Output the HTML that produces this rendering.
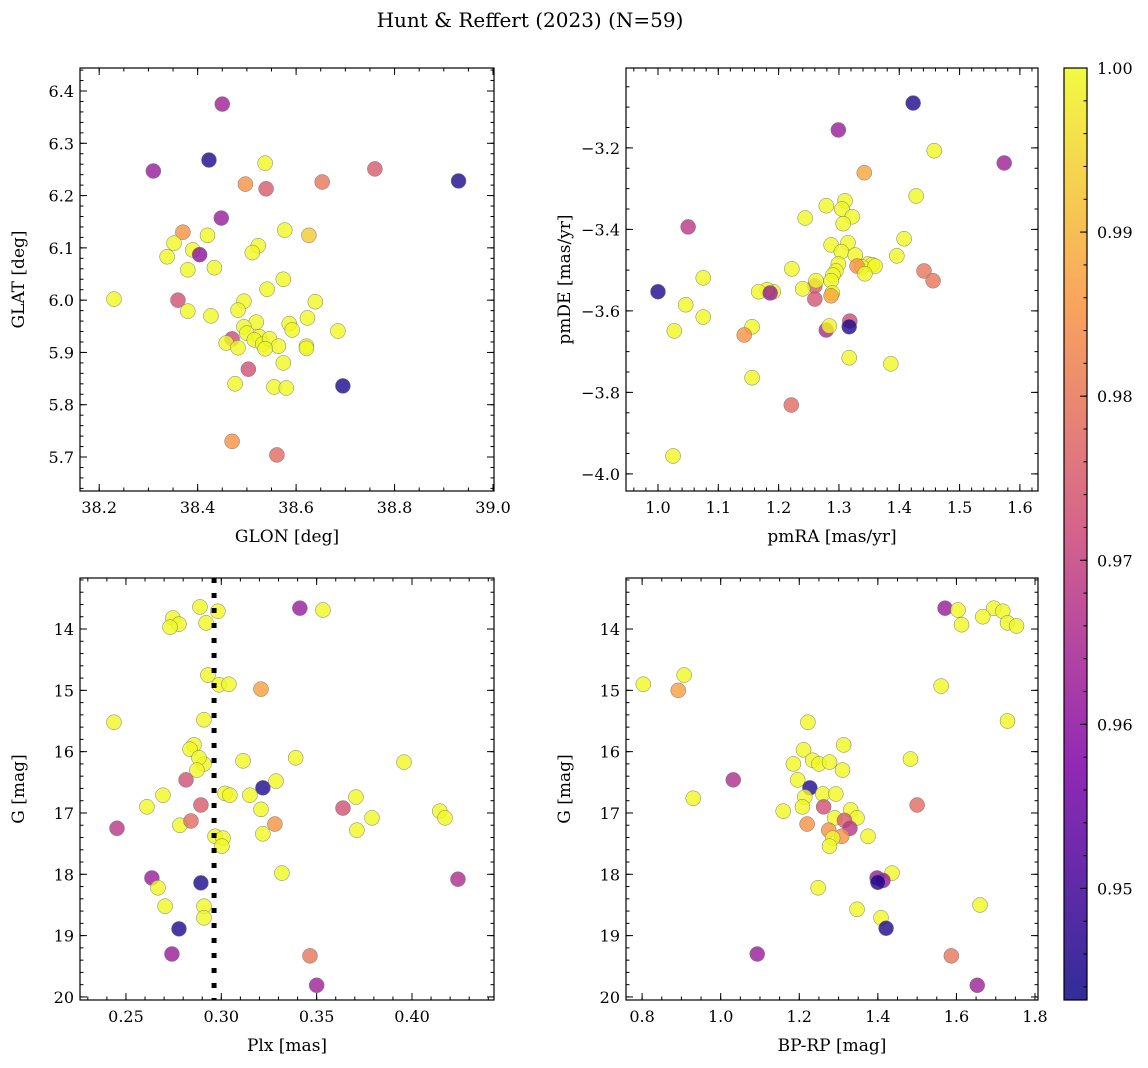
<!DOCTYPE html>
<html><head><meta charset="utf-8"><style>
body{margin:0;background:#fff;}
svg{display:block;font-family:"DejaVu Serif","Liberation Serif",serif;}
</style></head><body>
<svg id="fig" width="1148" height="1068" viewBox="0 0 1148 1068" xmlns="http://www.w3.org/2000/svg">
<defs><linearGradient id="cmap" x1="0" y1="1" x2="0" y2="0">
<stop offset="0" stop-color="#0d0887"/><stop offset="0.25" stop-color="#7e03a8"/><stop offset="0.5" stop-color="#cc4778"/><stop offset="0.75" stop-color="#f89540"/><stop offset="1" stop-color="#f0f921"/></linearGradient></defs>
<text x="530" y="27" text-anchor="middle" font-size="20">Hunt &amp; Reffert (2023) (N=59)</text>
</svg>
<script>
// ---- data ----
const tlX=[38.45,38.423,38.31,38.76,38.93,38.537,38.497,38.539,38.653,38.448,38.37,38.352,38.39,38.42,38.404,38.338,38.577,38.523,38.511,38.626,38.38,38.434,38.23,38.36,38.38,38.494,38.541,38.574,38.639,38.427,38.482,38.519,38.494,38.5,38.525,38.586,38.592,38.685,38.623,38.47,38.458,38.482,38.515,38.532,38.546,38.564,38.537,38.621,38.574,38.503,38.621,38.476,38.555,38.58,38.695,38.47,38.561];
const tlY=[6.375,6.268,6.247,6.251,6.228,6.262,6.222,6.213,6.226,6.157,6.13,6.109,6.096,6.124,6.087,6.083,6.134,6.104,6.091,6.124,6.058,6.062,6.002,6.0,5.979,5.998,6.021,6.04,5.997,5.97,5.981,5.958,5.949,5.937,5.93,5.955,5.943,5.941,5.966,5.926,5.918,5.909,5.924,5.916,5.926,5.912,5.907,5.912,5.88,5.868,5.908,5.84,5.834,5.832,5.836,5.73,5.704];
const tlC=[0.963,0.945,0.962,0.975,0.945,1,0.985,0.975,0.98,0.962,0.985,1,1,1,0.96,1,1,1,1,0.993,1,1,1,0.973,1,1,1,1,1,1,1,1,1,1,1,1,1,1,1,0.972,1,1,1,1,1,1,1,1,1,0.973,1,1,1,1,0.945,0.985,0.978];
const trX=[1.423,1.299,1.574,1.458,1.342,1.428,1.05,1.31,1.305,1.279,1.322,1.244,1.307,1.408,1.315,1.287,1.304,1.396,1.327,1.299,1.348,1.355,1.338,1.36,1.222,1.295,1.33,1.29,1.343,1.441,1.456,1.075,1.26,1.287,1.24,1.262,1.289,1.287,1.191,1.181,1.167,1.186,1.0,1.046,1.26,1.075,1.027,1.318,1.317,1.279,1.284,1.156,1.143,1.317,1.386,1.156,1.221,1.025];
const trY=[-3.09,-3.156,-3.237,-3.207,-3.261,-3.318,-3.394,-3.33,-3.35,-3.342,-3.369,-3.372,-3.386,-3.423,-3.433,-3.438,-3.455,-3.465,-3.463,-3.485,-3.485,-3.487,-3.492,-3.49,-3.497,-3.502,-3.49,-3.512,-3.509,-3.502,-3.526,-3.519,-3.539,-3.526,-3.546,-3.526,-3.556,-3.563,-3.553,-3.548,-3.553,-3.556,-3.553,-3.585,-3.571,-3.615,-3.649,-3.625,-3.639,-3.647,-3.637,-3.639,-3.659,-3.715,-3.73,-3.764,-3.831,-3.956];
const trC=[0.945,0.962,0.963,1,0.988,1,0.968,1,1,1,1,1,1,1,1,1,1,1,1,1,1,1,1,1,1,1,0.985,1,1,0.98,0.98,1,0.975,1,1,1,1,0.988,1,1,1,0.962,0.945,1,0.974,1,1,0.972,0.945,0.965,1,1,0.985,1,1,1,0.978,1];
const blX=[0.3412,0.3533,0.2888,0.2982,0.2746,0.2778,0.2731,0.292,0.293,0.2988,0.304,0.3208,0.2437,0.2909,0.2857,0.2836,0.2909,0.2883,0.2872,0.2815,0.339,0.3114,0.3958,0.3218,0.3287,0.2694,0.3019,0.3045,0.315,0.3706,0.261,0.2893,0.3638,0.3208,0.4146,0.4173,0.379,0.2783,0.2841,0.3281,0.2453,0.3711,0.3218,0.2967,0.3009,0.3003,0.3318,0.2636,0.4241,0.2893,0.2668,0.2705,0.2909,0.2909,0.2778,0.2741,0.3465,0.35];
const blY=[13.66,13.69,13.64,13.71,13.82,13.92,13.97,13.9,14.75,14.91,14.9,14.98,15.52,15.48,15.89,15.96,16.2,16.1,16.3,16.46,16.1,16.15,16.17,16.59,16.48,16.71,16.68,16.71,16.71,16.74,16.9,16.87,16.92,16.94,16.97,17.08,17.08,17.2,17.13,17.18,17.25,17.28,17.34,17.38,17.41,17.54,17.98,18.06,18.08,18.14,18.22,18.52,18.52,18.71,18.89,19.3,19.33,19.81];
const blC=[0.962,1,1,1,1,1,1,1,1,1,1,0.987,1,1,1,1,1,1,1,0.973,1,1,1,0.945,1,1,1,1,1,1,1,0.975,0.973,1,1,1,1,1,0.978,0.985,0.968,1,1,1,1,1,1,0.962,0.966,0.945,1,1,1,1,0.945,0.962,0.98,0.963];
const brX=[1.571,1.604,1.695,1.718,1.667,1.613,1.73,1.753,0.803,0.907,0.892,1.561,1.73,1.222,1.211,1.234,1.313,1.185,1.25,1.277,1.31,1.483,1.032,1.196,1.227,1.26,1.293,0.93,1.214,1.262,1.208,1.159,1.331,1.5,1.29,1.347,1.22,1.315,1.329,1.275,1.308,1.375,1.285,1.277,1.436,1.398,1.413,1.4,1.248,1.66,1.347,1.408,1.421,1.093,1.587,1.653];
const brY=[13.66,13.69,13.66,13.71,13.8,13.93,13.9,13.95,14.9,14.75,15.0,14.93,15.5,15.52,15.97,16.14,15.89,16.2,16.2,16.17,16.3,16.12,16.46,16.46,16.59,16.69,16.69,16.76,16.74,16.9,16.9,16.97,16.95,16.87,17.08,17.08,17.18,17.12,17.25,17.28,17.38,17.38,17.41,17.54,17.98,18.06,18.1,18.13,18.22,18.5,18.57,18.71,18.88,19.3,19.33,19.81];
const brC=[0.962,1,1,1,1,1,1,1,1,1,0.987,1,1,1,1,1,1,1,1,1,1,1,0.966,1,0.945,1,1,1,1,0.973,1,1,1,0.978,1,1,0.985,0.975,0.968,0.985,0.985,1,1,1,1,0.962,0.962,0.945,1,1,1,1,0.945,0.962,0.98,0.963];
const plxCut=[0.2962];
const cbTicks=[0.95,0.96,0.97,0.98,0.99,1.00];

const NS="http://www.w3.org/2000/svg";
const svg=document.getElementById('fig');
const CMIN=0.9432,CMAX=1.0;
const stops=[[0,[13,8,135]],[0.25,[126,3,168]],[0.5,[204,71,120]],[0.75,[248,149,64]],[1,[240,249,33]]];
function cmap(v){let t=Math.max(0,Math.min(1,(v-CMIN)/(CMAX-CMIN)));
 for(let i=0;i<4;i++){const a=stops[i],b=stops[i+1];if(t<=b[0]){const f=(t-a[0])/(b[0]-a[0]);return 'rgb('+a[1].map((c,k)=>Math.round(c+(b[1][k]-c)*f)).join(',')+')';}}
 return 'rgb(240,249,33)';}
function el(tag,attrs,parent){const e=document.createElementNS(NS,tag);for(const k in attrs)e.setAttribute(k,attrs[k]);(parent||svg).appendChild(e);return e;}
function fmt(v,d){const s=v.toFixed(d);return s.startsWith('-')?'\u2212'+s.slice(1):s;}
function range(a,b,s){const r=[];for(let v=a;v<=b+1e-9;v+=s)r.push(+v.toFixed(6));return r;}

function panel(name,box,xd,yd,xmaj,xmin,ymaj,ymin,xdec,ydec,xlab,ylab,X,Y,C,vline){
 const [L,T,R,B]=box;
 const sx=v=>L+(v-xd[0])/(xd[1]-xd[0])*(R-L);
 const sy=v=>B-(v-yd[0])/(yd[1]-yd[0])*(B-T);
 const g=el('g',{});
 
 
 for(let i=0;i<X.length;i++){
  const c=el('circle',{cx:sx(X[i]),cy:sy(Y[i]),r:7.5,fill:cmap(C[i]),'fill-opacity':0.8,stroke:'#777','stroke-width':0.5},g);
  
  
 }
 if(vline){const l=el('line',{x1:sx(vline),x2:sx(vline),y1:T,y2:B,stroke:'#000','stroke-width':5,'stroke-dasharray':'5,10'},g);
  
  }
 const fr=el('rect',{x:L,y:T,width:R-L,height:B-T,fill:'none',stroke:'#000','stroke-width':1.2},g);
 
 
 const tk={stroke:'#000','stroke-width':1};
 xmin.forEach(v=>{const x=sx(v);if(x<L-0.5||x>R+0.5)return;el('line',Object.assign({x1:x,x2:x,y1:B,y2:B-3.5},tk),g);el('line',Object.assign({x1:x,x2:x,y1:T,y2:T+3.5},tk),g);});
 ymin.forEach(v=>{const y=sy(v);if(y<T-0.5||y>B+0.5)return;el('line',Object.assign({x1:L,x2:L+3.5,y1:y,y2:y},tk),g);el('line',Object.assign({x1:R,x2:R-3.5,y1:y,y2:y},tk),g);});
 xmaj.forEach(v=>{const x=sx(v);el('line',Object.assign({x1:x,x2:x,y1:B,y2:B-7},tk),g);el('line',Object.assign({x1:x,x2:x,y1:T,y2:T+7},tk),g);
  const t=el('text',{x:x,y:B+22,'text-anchor':'middle','font-size':16},g);t.textContent=fmt(v,xdec);
  
  });
 ymaj.forEach(v=>{const y=sy(v);el('line',Object.assign({x1:L,x2:L+7,y1:y,y2:y},tk),g);el('line',Object.assign({x1:R,x2:R-7,y1:y,y2:y},tk),g);
  const t=el('text',{x:L-6,y:y+6,'text-anchor':'end','font-size':16},g);t.textContent=fmt(v,ydec);
  
  });
 const xl=el('text',{x:(L+R)/2,y:B+51,'text-anchor':'middle','font-size':17},g);xl.textContent=xlab;
 
 
 const yl=el('text',{x:0,y:0,'text-anchor':'middle','font-size':17,transform:'translate('+(name.endsWith('left')?24:570)+','+(T+B)/2+') rotate(-90)'},g);yl.textContent=ylab;
 
 
}
panel('top-left',[80,68,494,491],[38.161,39.002],[5.635,6.444],range(38.2,39.0,0.2),range(38.15,39.0,0.05),range(5.7,6.4,0.1),range(5.64,6.44,0.02),1,1,'GLON [deg]','GLAT [deg]',tlX,tlY,tlC);
panel('top-right',[626,68,1038,491],[0.947,1.63],[-4.042,-3.004],range(1.0,1.6,0.1),range(0.96,1.62,0.02),range(-4.0,-3.2,0.2),range(-4.0,-3.0,0.05),1,1,'pmRA [mas/yr]','pmDE [mas/yr]',trX,trY,trC);
panel('bottom-left',[80,578,494,1000],[0.2259,0.443],[20.05,13.168],range(0.25,0.40,0.05),range(0.23,0.44,0.01),range(14,20,1),range(13.2,20,0.2),2,0,'Plx [mas]','G [mag]',blX,blY,blC,plxCut[0]);
panel('bottom-right',[626,578,1038,1000],[0.759,1.8076],[20.05,13.168],range(0.8,1.8,0.2),range(0.8,1.8,0.05),range(14,20,1),range(13.2,20,0.2),1,0,'BP-RP [mag]','G [mag]',brX,brY,brC);

// colorbar
const cb=el('g',{});


el('rect',{x:1064,y:68,width:23,height:932,fill:'url(#cmap)','fill-opacity':0.85},cb);
el('rect',{x:1064,y:68,width:23,height:932,fill:'none',stroke:'#000','stroke-width':1.2},cb);
const cy=v=>1000-(v-CMIN)/(CMAX-CMIN)*932;
range(0.944,1.0,0.002).forEach(v=>el('line',{x1:1087,x2:1083.5,y1:cy(v),y2:cy(v),stroke:'#000'},cb));
cbTicks.forEach(v=>{el('line',{x1:1087,x2:1080,y1:cy(v),y2:cy(v),stroke:'#000'},cb);
 const t=el('text',{x:1097,y:cy(v)+6,'font-size':16},cb);t.textContent=v.toFixed(2);
 
 });
</script>
</body></html>
